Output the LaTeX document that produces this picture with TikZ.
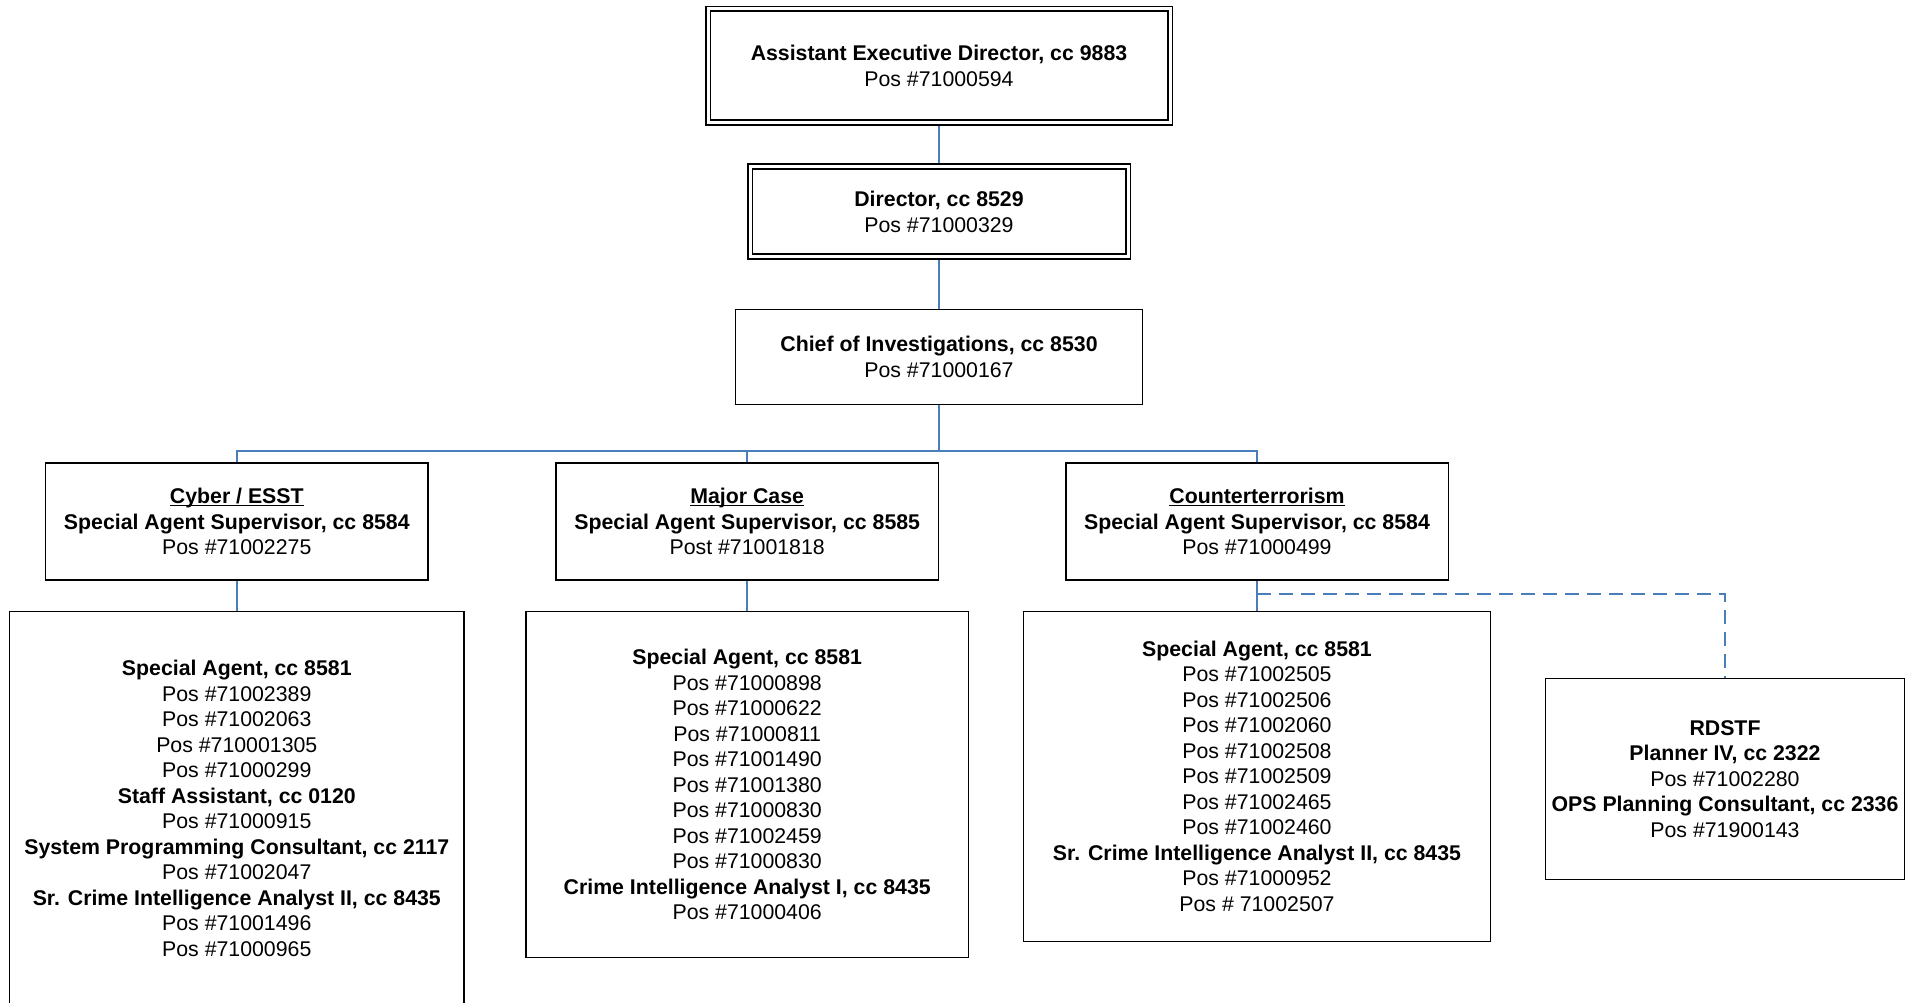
\documentclass[tikz,border=0pt]{standalone}
\usepackage{fontspec}
\setmainfont{Liberation Sans}
\usepackage{tikz}
\usetikzlibrary{positioning,calc,backgrounds}
\definecolor{orgline}{HTML}{4A7EBB}
\definecolor{orgink}{HTML}{000000}
% underlined section heading
\newcommand{\deptname}[1]{\setbox0\hbox{\textbf{#1}}\rlap{\rule[-2.6pt]{\wd0}{1.4pt}}\box0}

\begin{document}
\begin{tikzpicture}[
  x=1pt, y=-1pt,
  font=\fontsize{21.3}{25.5}\selectfont,
  box/.style={draw=orgink, line width=1.5pt, align=center, inner sep=2pt},
  headbox/.style={box, double, line width=1.7pt, double distance=3pt},
  unitbox/.style={box, minimum width=382.5pt, minimum height=117pt},
  wire/.style={orgline, line width=1.8pt},
  dotline/.style={wire, dash pattern=on 14pt off 8pt},
]
  \useasboundingbox (0,0) rectangle (1908,1003);
  \clip (0,0) rectangle (1908,1003);

  % top of the chain
  \node[headbox, minimum width=462pt, minimum height=113.7pt] (aed) at (939,65.8)
    {\textbf{Assistant Executive Director, cc 9883}\\Pos \#71000594};
  \node[headbox, minimum width=378pt, minimum height=90pt, below=42.3pt of aed] (dir)
    {\textbf{Director, cc 8529}\\Pos \#71000329};
  \node[box, minimum width=407pt, minimum height=94.7pt, below=51.3pt of dir] (chief)
    {\textbf{Chief of Investigations, cc 8530}\\Pos \#71000167};

  % units
  \node[unitbox] (cyber) at (236.8,521.6)
    {\deptname{Cyber / ESST}\\\textbf{Special Agent Supervisor, cc 8584}\\Pos \#71002275};
  \node[unitbox] (major) at (747.2,521.6)
    {\deptname{Major Case}\\\textbf{Special Agent Supervisor, cc 8585}\\Post \#71001818};
  \node[unitbox] (counter) at (1257,521.6)
    {\deptname{Counterterrorism}\\\textbf{Special Agent Supervisor, cc 8584}\\Pos \#71000499};

  % staff under each unit
  \node[box, minimum width=454.3pt, minimum height=394pt, below=29.7pt of cyber] (cyberstaff)
    {\textbf{Special Agent, cc 8581}\\Pos \#71002389\\Pos \#71002063\\Pos \#710001305\\Pos \#71000299\\
     \textbf{Staff Assistant, cc 0120}\\Pos \#71000915\\
     \textbf{System Programming Consultant, cc 2117}\\Pos \#71002047\\
     \textbf{Sr. Crime Intelligence Analyst II, cc 8435}\\Pos \#71001496\\Pos \#71000965};
  \node[box, minimum width=442.7pt, minimum height=346.3pt, below=29.7pt of major] (majorstaff)
    {\textbf{Special Agent, cc 8581}\\Pos \#71000898\\Pos \#71000622\\Pos \#71000811\\Pos \#71001490\\
     Pos \#71001380\\Pos \#71000830\\Pos \#71002459\\Pos \#71000830\\
     \textbf{Crime Intelligence Analyst I, cc 8435}\\Pos \#71000406};
  \node[box, minimum width=466.6pt, minimum height=330pt, below=29.7pt of counter] (counterstaff)
    {\textbf{Special Agent, cc 8581}\\Pos \#71002505\\Pos \#71002506\\Pos \#71002060\\Pos \#71002508\\
     Pos \#71002509\\Pos \#71002465\\Pos \#71002460\\
     \textbf{Sr. Crime Intelligence Analyst II, cc 8435}\\Pos \#71000952\\Pos \# 71002507};
  \node[box, minimum width=358.6pt, minimum height=201.4pt] (rdstf) at (1725,779)
    {\textbf{RDSTF}\\\textbf{Planner IV, cc 2322}\\Pos \#71002280\\
     \textbf{OPS Planning Consultant, cc 2336}\\Pos \#71900143};

  \coordinate (bus) at (939,450.8);
  \coordinate (tap) at ($(counter.south)!0.45!(counterstaff.north)$);

  \begin{scope}[on background layer]
    \draw[wire] (aed.south) -- (dir.north);
    \draw[wire] (dir.south) -- (chief.north);
    \draw[wire] (chief.south) -- (bus);
    \draw[wire] (cyber.north) |- (bus) -| (counter.north);
    \draw[wire] (major.north) -- (major.north |- bus);
    \draw[wire] (cyber.south) -- (cyberstaff.north);
    \draw[wire] (major.south) -- (majorstaff.north);
    \draw[wire] (counter.south) -- (counterstaff.north);
    \draw[dotline] (tap) -| (rdstf.north);
  \end{scope}
\end{tikzpicture}
\end{document}
